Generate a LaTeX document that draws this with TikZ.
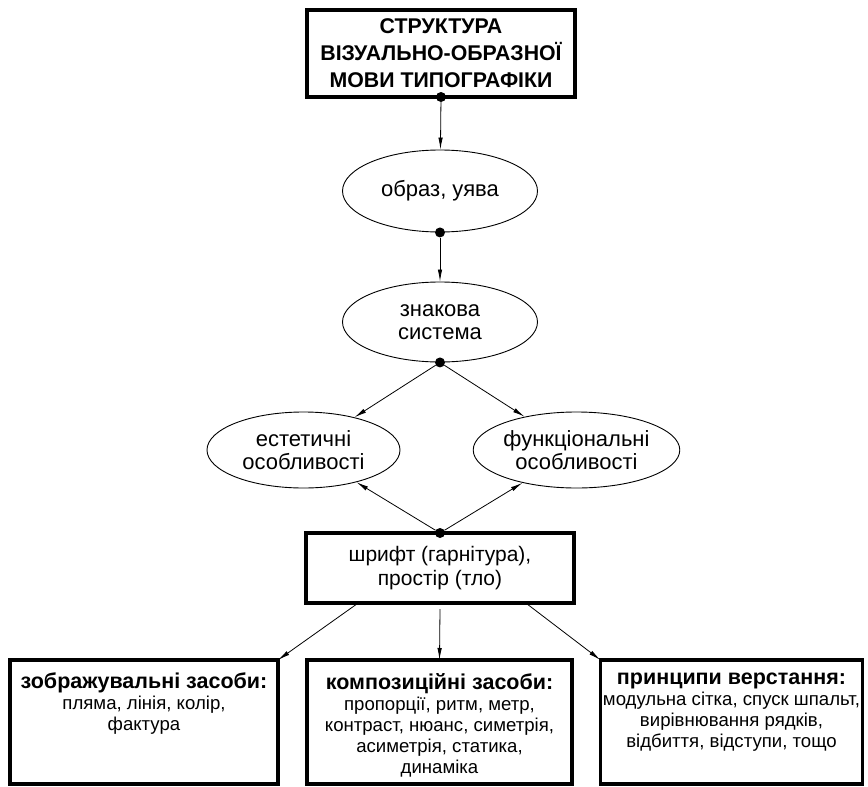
\documentclass[tikz,border=0pt]{standalone}
\usepackage{fontspec}
\setmainfont{Liberation Sans}
\usepackage{tikz}
\usetikzlibrary{shapes.geometric, arrows.meta, calc}
\tikzstyle{headbox} = [rectangle, line width=3.5pt, draw=black, outer sep=0pt, align=center, font=\bfseries\fontsize{21.3}{27}\selectfont]
\tikzstyle{oval} = [ellipse, line width=0.9pt, draw=black, inner sep=0pt, align=center, font=\fontsize{22}{23}\selectfont]
\tikzstyle{meansbox} = [rectangle, line width=3.5pt, draw=black, outer sep=0pt, inner sep=0pt, minimum height=124pt, font=\fontsize{18.6}{21}\selectfont]
\tikzstyle{dot} = [circle, fill=black, inner sep=0pt, minimum size=10pt]
\tikzstyle{arrow} = [line width=0.8pt, -{Latex[length=12pt, width=4.5pt]}]
\newcommand{\hd}[1]{{\bfseries\fontsize{21.5}{22}\selectfont #1}}
\newcommand{\means}[1]{\parbox[c][112pt][t]{262pt}{\centering\vspace{7pt}#1}}

\begin{document}
\begin{tikzpicture}[x=1pt, y=-1pt]
        \useasboundingbox (0,0) rectangle (868,787);
        % Heading and the chain of ovals
        \node (head) [headbox, minimum width=268pt, minimum height=87pt] at (441,53.5) {СТРУКТУРА\\ВІЗУАЛЬНО-ОБРАЗНОЇ\\МОВИ ТИПОГРАФІКИ};
        \node (image) [oval, minimum width=195pt, minimum height=82pt] at (440,191) {образ, уява};
        \node (sign) [oval, minimum width=195pt, minimum height=80pt] at (440,322) {знакова\\система};
        \node (aesth) [oval, minimum width=193pt, minimum height=76pt] at (303.5,450) {естетичні\\особливості};
        \node (funct) [oval, minimum width=197pt, minimum height=76pt] at (576.5,450) {функціональні\\особливості};
        \node (font) [headbox, font=\fontsize{21}{24}\selectfont, minimum width=268pt, minimum height=70pt] at (440,568) {шрифт (гарнітура),\\простір (тло)};
        % Three groups of means
        \node (pict) [meansbox, minimum width=268pt] at (144,722) {\means{\hd{зображувальні засоби:}\\пляма, лінія, колір,\\фактура}};
        \node (comp) [meansbox, minimum width=265pt] at (439.5,722) {\means{\hd{композиційні засоби:}\\пропорції, ритм, метр,\\контраст, нюанс, симетрія,\\асиметрія, статика,\\динаміка}};
        \node (layout) [meansbox, minimum width=261pt] at (731.5,722) {\means{\hd{принципи верстання:}\\модульна сітка, спуск шпальт,\\вирівнювання рядків,\\відбиття, відступи, тощо}};
        % Dots where the arrows start
        \node (d1) [dot] at (head.south) {};
        \node (d2) [dot] at (image.south) {};
        \node (d3) [dot] at (sign.south) {};
        \node (d4) [dot] at (font.north) {};
        % Arrows
        \draw [arrow] (d1) -- (image);
        \draw [arrow] (d2) -- (sign);
        \draw [arrow] (d3) -- (aesth);
        \draw [arrow] (d3) -- (funct);
        \draw [arrow] (d4) -- (aesth);
        \draw [arrow] (d4) -- (funct);
        \draw [arrow] ($(font.south west)!0.195!(font.south east)$) -- (pict.north east);
        \draw [arrow] ($(font.south)+(0,6)$) -- (comp.north);
        \draw [arrow] ($(font.south west)!0.82!(font.south east)$) -- (layout.north west);
\end{tikzpicture}
\end{document}
